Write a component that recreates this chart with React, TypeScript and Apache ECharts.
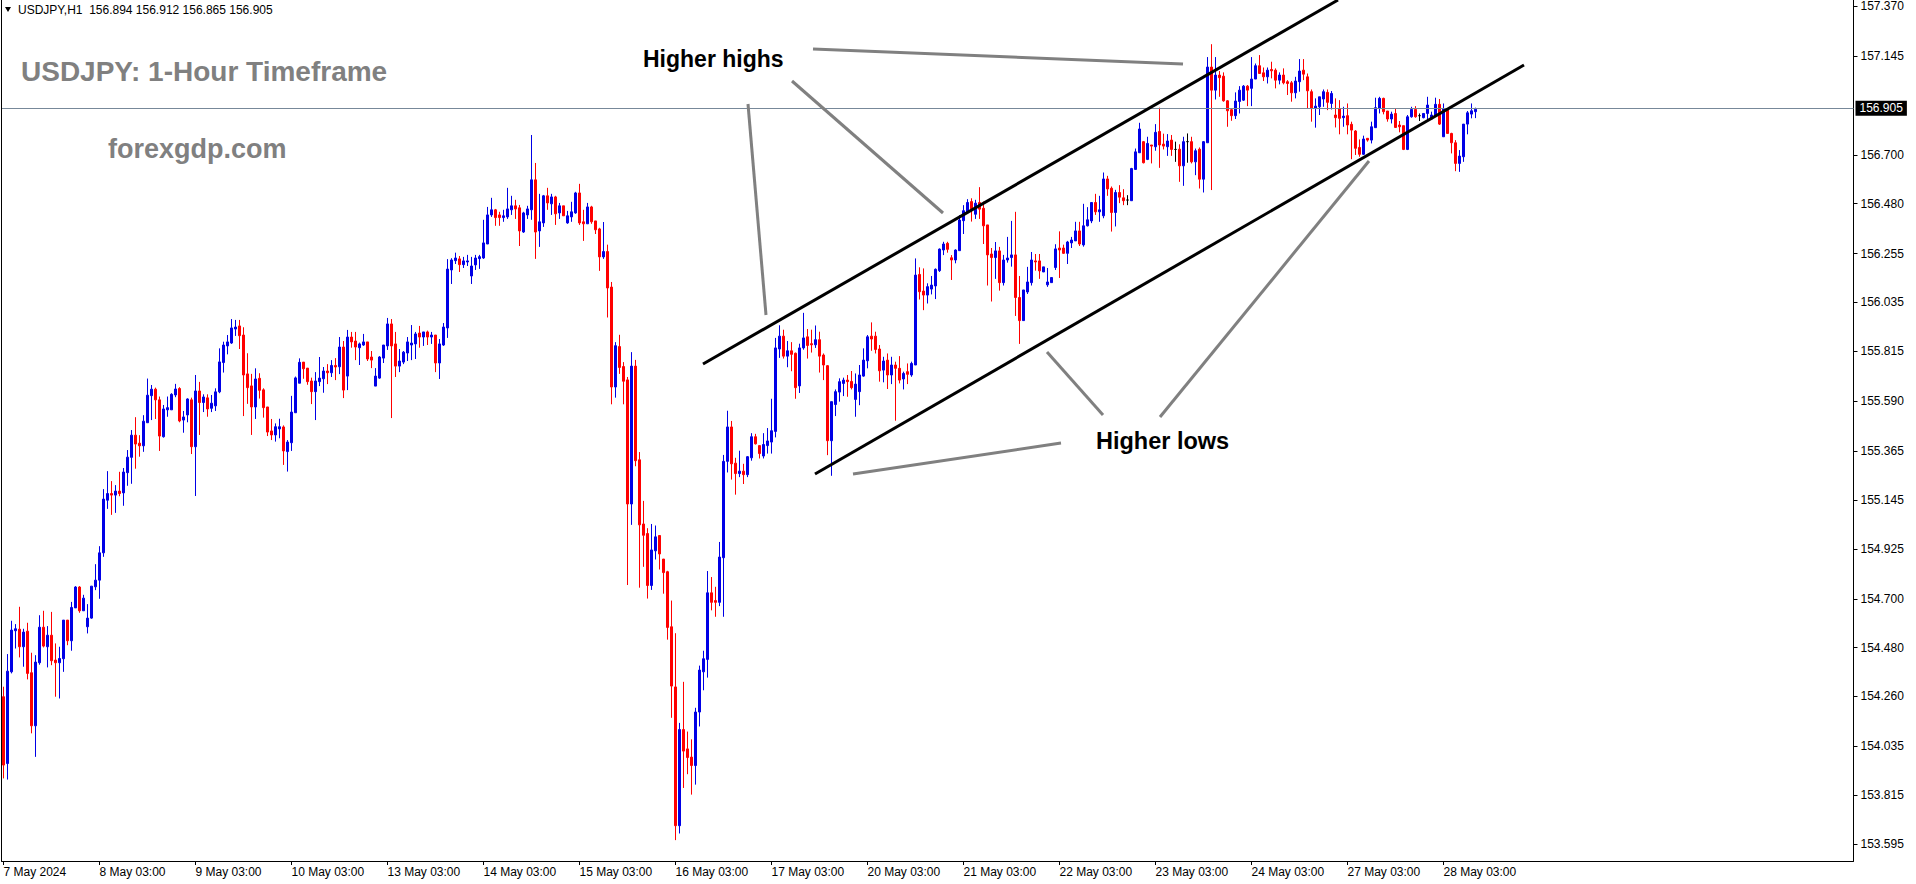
import React, { useEffect, useRef } from "react";
import * as echarts from "echarts";

// ---- data (USDJPY H1, first bar = 7 May 03:00) ----
const DAYS = ["7 May", "8 May", "9 May", "10 May", "13 May", "14 May", "15 May", "16 May", "17 May", "20 May", "21 May", "22 May", "23 May", "24 May", "27 May", "28 May"];
const FIRST_HOUR = 3;
const FIRST_LABEL = "7 May 2024";

const OPEN = [
  154.259,153.958,154.371,154.556,154.563,154.484,154.554,154.367,154.128,154.412,
  154.572,154.484,154.536,154.424,154.412,154.430,154.604,154.511,154.659,154.753,
  154.646,154.574,154.613,154.754,154.784,154.907,155.144,155.174,155.167,155.185,
  155.177,155.268,155.337,155.437,155.401,155.389,155.493,155.615,155.644,155.596,
  155.430,155.551,155.551,155.618,155.647,155.505,155.528,155.596,155.385,155.636,
  155.584,155.605,155.558,155.569,155.632,155.764,155.839,155.852,155.915,155.929,
  155.888,155.713,155.659,155.564,155.693,155.641,155.564,155.456,155.438,155.465,
  155.474,155.363,155.403,155.538,155.671,155.766,155.739,155.681,155.633,155.678,
  155.691,155.726,155.718,155.751,155.745,155.834,155.703,155.879,155.861,155.831,
  155.843,155.857,155.789,155.658,155.694,155.784,155.839,155.938,155.848,155.748,
  155.766,155.807,155.843,155.848,155.897,155.879,155.902,155.879,155.888,155.762,
  155.843,155.920,156.181,156.223,156.231,156.205,156.217,156.154,156.204,156.232,
  156.235,156.298,156.429,156.452,156.429,156.417,156.420,156.452,156.470,156.461,
  156.352,156.429,156.452,156.587,156.357,156.393,156.515,156.479,156.510,156.438,
  156.470,156.393,156.420,156.438,156.528,156.398,156.389,156.465,156.402,156.366,
  156.240,156.264,156.104,155.654,155.836,155.746,155.686,155.127,155.748,155.326,
  155.037,154.994,154.760,154.916,154.985,154.879,154.822,154.574,154.303,153.678,
  154.111,154.024,153.987,153.949,154.190,154.371,154.427,154.727,154.692,154.684,
  154.885,155.319,155.474,155.311,155.264,155.275,155.259,155.335,155.430,155.390,
  155.343,155.390,155.406,155.454,155.825,155.883,155.793,155.817,155.806,155.659,
  155.830,155.880,155.849,155.844,155.867,155.798,155.750,155.412,155.575,155.631,
  155.670,155.685,155.679,155.598,155.633,155.703,155.772,155.883,155.883,155.825,
  155.730,155.775,155.708,155.753,155.738,155.690,155.723,155.708,155.753,156.161,
  156.086,156.068,156.095,156.109,156.178,156.271,156.301,156.236,156.226,156.268,
  156.403,156.443,156.489,156.432,156.485,156.459,156.384,156.253,156.237,156.267,
  156.124,156.226,156.237,156.249,156.057,155.953,156.082,156.124,156.222,156.222,
  156.172,156.114,156.124,156.192,156.280,156.280,156.256,156.303,156.312,156.357,
  156.294,156.380,156.402,156.485,156.443,156.425,156.591,156.549,156.440,156.530,
  156.506,156.496,156.493,156.634,156.709,156.759,156.679,156.744,156.736,156.805,
  156.748,156.736,156.766,156.724,156.725,156.650,156.759,156.759,156.668,156.725,
  156.590,156.754,157.095,156.991,157.059,157.054,156.943,156.903,156.876,156.940,
  156.946,157.009,156.999,157.041,157.101,157.069,157.051,157.084,157.081,157.036,
  157.059,157.029,157.024,156.979,157.029,157.081,157.051,156.984,156.909,156.916,
  156.951,156.981,156.931,156.879,156.906,156.867,156.876,156.837,156.807,156.733,
  156.702,156.774,156.766,156.822,156.909,156.954,156.897,156.861,156.886,156.834,
  156.831,156.724,156.871,156.904,156.876,156.867,156.886,156.861,156.874,156.927,
  156.781,156.906,156.796,156.754,156.661,156.691,156.838,156.883,156.894,
];

const HIGH = [
  154.304,154.451,154.601,154.586,154.664,154.565,154.592,154.457,154.446,154.626,
  154.646,154.577,154.641,154.499,154.484,154.604,154.604,154.686,154.757,154.757,
  154.718,154.676,154.757,154.856,154.937,155.194,155.275,155.230,155.212,155.272,
  155.289,155.370,155.460,155.518,155.437,155.527,155.692,155.663,155.651,155.611,
  155.573,155.611,155.626,155.668,155.653,155.546,155.603,155.606,155.708,155.677,
  155.621,155.621,155.618,155.648,155.828,155.858,155.888,155.960,155.956,155.956,
  155.923,155.806,155.713,155.738,155.716,155.648,155.564,155.510,155.490,155.511,
  155.481,155.415,155.614,155.701,155.783,155.766,155.739,155.696,155.721,155.789,
  155.744,155.757,155.775,155.784,155.879,155.861,155.911,155.902,155.902,155.854,
  155.893,155.857,155.816,155.739,155.793,155.843,155.965,155.960,155.902,155.825,
  155.816,155.879,155.933,155.902,155.929,155.902,155.908,155.902,155.888,155.870,
  155.942,156.230,156.234,156.259,156.244,156.240,156.249,156.240,156.249,156.249,
  156.407,156.465,156.506,156.456,156.443,156.452,156.551,156.515,156.497,156.474,
  156.443,156.470,156.789,156.663,156.524,156.519,156.551,156.524,156.515,156.483,
  156.470,156.447,156.488,156.533,156.569,156.452,156.483,156.470,156.402,156.371,
  156.397,156.295,156.127,155.856,155.889,155.766,155.699,155.811,155.776,155.361,
  155.141,155.018,155.037,155.030,154.985,154.879,154.826,154.692,154.545,154.141,
  154.326,154.102,154.067,154.209,154.399,154.466,154.825,154.798,154.754,154.956,
  155.348,155.547,155.501,155.335,155.367,155.308,155.343,155.446,155.443,155.390,
  155.446,155.469,155.601,155.875,155.932,155.912,155.861,155.856,155.809,155.849,
  155.988,155.915,155.912,155.931,155.903,155.805,155.753,155.588,155.643,155.693,
  155.696,155.708,155.726,155.715,155.753,155.828,155.888,155.945,155.903,155.843,
  155.790,155.805,155.790,155.768,155.793,155.723,155.760,155.768,156.233,156.193,
  156.188,156.121,156.154,156.188,156.278,156.308,156.308,156.248,156.274,156.428,
  156.473,156.500,156.504,156.497,156.554,156.489,156.384,156.280,156.307,156.285,
  156.249,156.330,156.402,156.443,156.154,156.091,156.195,156.262,156.253,156.253,
  156.195,156.190,156.147,156.297,156.355,156.295,156.312,156.330,156.398,156.398,
  156.479,156.464,156.485,156.524,156.515,156.620,156.605,156.557,156.542,156.563,
  156.545,156.518,156.641,156.728,156.844,156.762,156.781,156.744,156.838,156.912,
  156.795,156.793,156.789,156.759,156.747,156.781,156.796,156.781,156.728,156.733,
  156.762,157.140,157.198,157.140,157.077,157.071,156.946,156.906,156.981,157.009,
  157.014,157.014,157.140,157.111,157.149,157.093,157.093,157.119,157.089,157.071,
  157.089,157.036,157.032,157.051,157.131,157.131,157.066,156.994,156.954,156.961,
  156.994,156.994,156.987,156.954,156.946,156.916,156.931,156.849,156.811,156.769,
  156.786,156.774,156.849,156.957,156.961,156.957,156.897,156.894,156.909,156.852,
  156.831,156.879,156.916,156.919,156.886,156.886,156.961,156.894,156.957,156.951,
  156.931,156.909,156.799,156.766,156.721,156.838,156.897,156.931,156.912,
];

const LOW = [
  153.891,153.886,154.364,154.476,154.436,154.394,154.337,154.094,153.988,154.403,
  154.481,154.391,154.401,154.259,154.251,154.371,154.491,154.466,154.659,154.637,
  154.646,154.544,154.610,154.739,154.700,154.889,155.105,155.078,155.087,155.162,
  155.119,155.209,155.218,155.286,155.340,155.362,155.493,155.505,155.510,155.366,
  155.426,155.520,155.551,155.608,155.495,155.448,155.495,155.352,155.163,155.438,
  155.541,155.520,155.541,155.546,155.626,155.719,155.801,155.848,155.884,155.825,
  155.523,155.578,155.438,155.510,155.602,155.516,155.433,155.415,155.408,155.423,
  155.303,155.273,155.366,155.538,155.671,155.691,155.664,155.577,155.505,155.658,
  155.628,155.667,155.699,155.685,155.712,155.604,155.640,155.831,155.775,155.753,
  155.839,155.771,155.739,155.658,155.691,155.762,155.821,155.514,155.699,155.721,
  155.757,155.771,155.775,155.780,155.831,155.839,155.843,155.848,155.721,155.690,
  155.839,155.875,156.118,156.208,156.172,156.190,156.199,156.118,156.181,156.186,
  156.231,156.298,156.420,156.380,156.380,156.398,156.411,156.429,156.411,156.289,
  156.348,156.411,156.407,156.231,156.285,156.375,156.452,156.429,156.384,156.411,
  156.425,156.389,156.398,156.434,156.384,156.312,156.389,156.389,156.343,156.177,
  156.231,155.967,155.576,155.606,155.713,155.576,154.762,155.033,155.297,154.750,
  154.844,154.701,154.740,154.877,154.832,154.723,154.516,154.164,153.613,153.643,
  153.848,153.910,153.818,153.863,154.125,154.288,154.345,154.648,154.619,154.667,
  154.619,155.269,155.237,155.169,155.248,155.217,155.248,155.322,155.395,155.332,
  155.332,155.354,155.354,155.427,155.785,155.782,155.743,155.725,155.601,155.627,
  155.822,155.782,155.809,155.830,155.719,155.685,155.347,155.254,155.523,155.588,
  155.613,155.610,155.643,155.520,155.572,155.700,155.738,155.817,155.805,155.678,
  155.675,155.645,155.667,155.502,155.670,155.643,155.667,155.700,155.753,156.048,
  156.000,156.030,156.071,156.050,156.172,156.248,156.259,156.136,156.211,156.268,
  156.343,156.439,156.399,156.411,156.411,156.298,156.111,156.039,156.141,156.088,
  156.111,156.214,156.196,155.974,155.848,155.953,156.073,156.111,156.178,156.141,
  156.172,156.105,156.124,156.181,156.145,156.253,156.208,156.280,156.312,156.289,
  156.286,156.377,156.392,156.429,156.398,156.414,156.515,156.354,156.377,156.482,
  156.473,156.473,156.493,156.634,156.709,156.661,156.676,156.661,156.718,156.641,
  156.724,156.695,156.695,156.668,156.578,156.560,156.664,156.661,156.608,156.548,
  156.530,156.754,156.541,156.949,156.961,156.939,156.826,156.853,156.861,156.886,
  156.942,156.919,156.919,157.041,157.066,157.032,157.021,157.044,156.999,157.017,
  157.017,156.969,156.939,156.954,156.984,157.036,156.909,156.849,156.822,156.879,
  156.916,156.901,156.904,156.823,156.792,156.826,156.792,156.680,156.699,156.691,
  156.699,156.759,156.751,156.822,156.886,156.882,156.849,156.841,156.822,156.801,
  156.721,156.721,156.867,156.867,156.852,156.864,156.852,156.857,156.874,156.834,
  156.781,156.796,156.706,156.626,156.623,156.668,156.792,156.864,156.865,
];

const CLOSE = [
  153.951,154.374,154.559,154.565,154.484,154.550,154.364,154.128,154.415,154.572,
  154.487,154.536,154.421,154.412,154.431,154.604,154.511,154.661,154.753,154.646,
  154.703,154.613,154.757,154.784,154.907,155.149,155.174,155.167,155.185,155.174,
  155.271,155.338,155.437,155.397,155.389,155.500,155.617,155.644,155.596,155.433,
  155.555,155.561,155.621,155.645,155.501,155.519,155.600,155.385,155.636,155.584,
  155.609,155.555,155.581,155.632,155.767,155.843,155.857,155.920,155.924,155.885,
  155.708,155.651,155.564,155.690,155.639,155.561,155.451,155.438,155.475,155.475,
  155.366,155.406,155.541,155.695,155.765,155.736,155.678,155.633,155.681,155.694,
  155.726,155.718,155.751,155.744,155.834,155.640,155.879,155.857,155.834,155.848,
  155.857,155.780,155.775,155.703,155.789,155.843,155.938,155.839,155.748,155.771,
  155.811,155.857,155.852,155.893,155.879,155.902,155.879,155.888,155.762,155.848,
  155.924,156.185,156.226,156.235,156.205,156.222,156.222,156.199,156.235,156.241,
  156.303,156.429,156.452,156.417,156.417,156.425,156.456,156.470,156.456,156.357,
  156.438,156.456,156.587,156.352,156.398,156.515,156.483,156.510,156.434,156.470,
  156.425,156.425,156.443,156.528,156.393,156.389,156.465,156.398,156.362,156.240,
  156.264,156.100,155.654,155.840,155.742,155.680,155.127,155.748,155.322,155.033,
  154.986,154.760,154.920,154.979,154.902,154.818,154.571,154.307,153.678,154.111,
  154.014,153.985,153.949,154.190,154.379,154.430,154.727,154.684,154.684,154.888,
  155.319,155.474,155.308,155.264,155.275,155.259,155.340,155.430,155.398,155.354,
  155.395,155.411,155.457,155.830,155.883,155.793,155.817,155.801,155.651,155.830,
  155.875,155.841,155.844,155.867,155.793,155.753,155.412,155.588,155.633,155.678,
  155.685,155.678,155.651,155.667,155.708,155.775,155.880,155.870,155.823,155.727,
  155.771,155.708,155.753,155.738,155.685,155.715,155.711,155.760,156.158,156.083,
  156.068,156.106,156.113,156.184,156.275,156.298,156.274,156.226,156.271,156.406,
  156.448,156.485,156.455,156.482,156.455,156.380,156.249,156.237,156.267,156.124,
  156.226,156.235,156.249,156.057,155.953,156.091,156.127,156.226,156.217,156.177,
  156.195,156.127,156.147,156.276,156.271,156.256,156.307,156.316,156.357,156.298,
  156.380,156.407,156.485,156.443,156.452,156.591,156.546,156.440,156.530,156.509,
  156.493,156.496,156.638,156.713,156.816,156.664,156.751,156.739,156.801,156.744,
  156.739,156.762,156.724,156.724,156.650,156.759,156.759,156.668,156.718,156.590,
  156.759,157.095,156.991,157.059,157.047,156.943,156.898,156.876,156.942,156.991,
  157.009,156.991,157.041,157.101,157.066,157.051,157.081,157.078,157.036,157.059,
  157.024,157.021,156.979,157.032,157.077,157.063,156.988,156.909,156.919,156.961,
  156.984,156.936,156.976,156.867,156.864,156.874,156.834,156.811,156.729,156.702,
  156.771,156.766,156.826,156.912,156.954,156.894,156.861,156.883,156.823,156.826,
  156.724,156.871,156.904,156.871,156.876,156.886,156.924,156.879,156.927,156.838,
  156.906,156.796,156.754,156.661,156.694,156.838,156.889,156.898,156.905,
];

const Y_TICKS = [157.370, 157.145, 156.700, 156.480, 156.255, 156.035, 155.815, 155.590, 155.365, 155.145, 154.925, 154.700, 154.480, 154.260, 154.035, 153.815, 153.595];
const LAST_PRICE = 156.905;
const HEADER = "USDJPY,H1  156.894 156.912 156.865 156.905";
const TITLE = "USDJPY: 1-Hour Timeframe";
const WATERMARK = "forexgdp.com";
const LABEL_HH = "Higher highs";
const LABEL_HL = "Higher lows";

// ---- layout / style ----
const TOTAL_SLOTS = 463; // includes empty shift area at the right
const Y_MIN = 153.519;
const Y_MAX = 157.397;
const BULL = "#0000e6";
const BEAR = "#ff0000";
const FONT = "'Liberation Sans', Arial, sans-serif";

export default function App() {
  const ref = useRef<HTMLDivElement>(null);

  useEffect(() => {
    document.body.style.margin = "0";
    document.body.style.background = "#fff";
    const chart = echarts.init(ref.current as HTMLDivElement, null, { renderer: "svg" });

    const cats: string[] = [];
    for (let i = 0; i < TOTAL_SLOTS; i++) {
      if (i < OPEN.length) {
        const d = DAYS[Math.floor((i + FIRST_HOUR) / 24)];
        const h = (i + FIRST_HOUR) % 24;
        cats.push(`${d} ${String(h).padStart(2, "0")}:00`);
      } else {
        cats.push(`_${i}`);
      }
    }
    const lastLabelIdx = (DAYS.length - 1) * 24;
    const showIdx = (idx: number) => idx % 24 === 0 && idx <= lastLabelIdx;

    const data = OPEN.map((o, i) => {
      const v = [o, CLOSE[i], LOW[i], HIGH[i]];
      if (o === CLOSE[i]) {
        return { value: v, itemStyle: { color: "#000", color0: "#000", borderColor: "#000", borderColor0: "#000" } };
      }
      return v;
    });

    const gray = "#808080";
    const line = (x1: number, y1: number, x2: number, y2: number, stroke: string, w: number) => ({
      type: "line",
      z: 100,
      silent: true,
      shape: { x1, y1, x2, y2 },
      style: { stroke, lineWidth: w },
    });
    const text = (x: number, y: number, t: string, size: number, fill: string, weight = "bold") => ({
      type: "text",
      z: 100,
      silent: true,
      x,
      y,
      style: {
        text: t,
        fill,
        font: `${weight} ${size}px ${FONT}`,
        textAlign: "left",
        textVerticalAlign: "middle",
        verticalAlign: "middle",
      },
    });

    chart.setOption({
      animation: false,
      backgroundColor: "#ffffff",
      grid: { left: 1.5, right: 62.5, top: 0, bottom: 23, containLabel: false },
      xAxis: {
        type: "category",
        data: cats,
        boundaryGap: true,
        axisLine: { show: true, lineStyle: { color: "#000", width: 1 } },
        axisTick: {
          show: true,
          alignWithLabel: true,
          interval: (idx: number) => showIdx(idx),
          length: 4,
          lineStyle: { color: "#000" },
        },
        axisLabel: {
          show: true,
          interval: (idx: number) => showIdx(idx),
          align: "left",
          margin: 5,
          fontSize: 12,
          fontFamily: FONT,
          color: "#000",
          formatter: (v: string, idx: number) => (idx === 0 ? FIRST_LABEL : v),
        },
        splitLine: { show: false },
      },
      yAxis: {
        type: "value",
        position: "right",
        min: Y_MIN,
        max: Y_MAX,
        scale: true,
        axisLine: { show: true, lineStyle: { color: "#000", width: 1 } },
        axisTick: { show: true, length: 4, customValues: Y_TICKS, lineStyle: { color: "#000" } },
        axisLabel: {
          show: true,
          customValues: Y_TICKS,
          formatter: (v: number) => v.toFixed(3),
          margin: 7,
          fontSize: 12,
          fontFamily: FONT,
          color: "#000",
        },
        splitLine: { show: false },
      },
      series: [
        {
          type: "candlestick",
          data,
          barWidth: 2,
          itemStyle: {
            color: BULL,
            color0: BEAR,
            borderColor: BULL,
            borderColor0: BEAR,
            borderColorDoji: "#000",
            borderWidth: 1,
          },
          emphasis: { disabled: true },
          markLine: {
            silent: true,
            symbol: ["none", "none"],
            lineStyle: { color: "#778899", width: 1, type: "solid" },
            label: {
              show: true,
              position: "end",
              distance: 2,
              formatter: LAST_PRICE.toFixed(3),
              color: "#fff",
              backgroundColor: "#000",
              padding: [2, 4, 1, 4],
              fontSize: 12,
              fontFamily: FONT,
            },
            emphasis: { disabled: true },
            data: [{ yAxis: LAST_PRICE }],
          },
        },
      ],
      graphic: [
        line(1.5, 0, 1.5, 861, "#000", 1),
        // channel lines
        line(703, 364, 1338, 0, "#000", 3),
        line(815, 474, 1524, 65, "#000", 3),
        // pointer lines
        line(813, 49, 1183, 64, gray, 3),
        line(748, 104, 766, 315, gray, 3),
        line(792, 81, 943, 213, gray, 3),
        line(853, 474, 1061, 443, gray, 3),
        line(1047, 352, 1103, 415, gray, 3),
        line(1160, 417, 1369, 161, gray, 3),
        // header
        {
          type: "polygon",
          z: 100,
          silent: true,
          shape: { points: [[5, 7], [11, 7], [8, 12]] },
          style: { fill: "#000" },
        },
        text(18, 10, HEADER, 12, "#000", "normal"),
        text(21, 71, TITLE, 28, "#808080"),
        text(108, 149, WATERMARK, 27, "#808080"),
        text(643, 59, LABEL_HH, 23, "#000"),
        text(1096, 441, LABEL_HL, 23.5, "#000"),
      ],
    });

    return () => {
      chart.dispose();
    };
  }, []);

  return <div ref={ref} style={{ width: 1916, height: 884 }} />;
}
